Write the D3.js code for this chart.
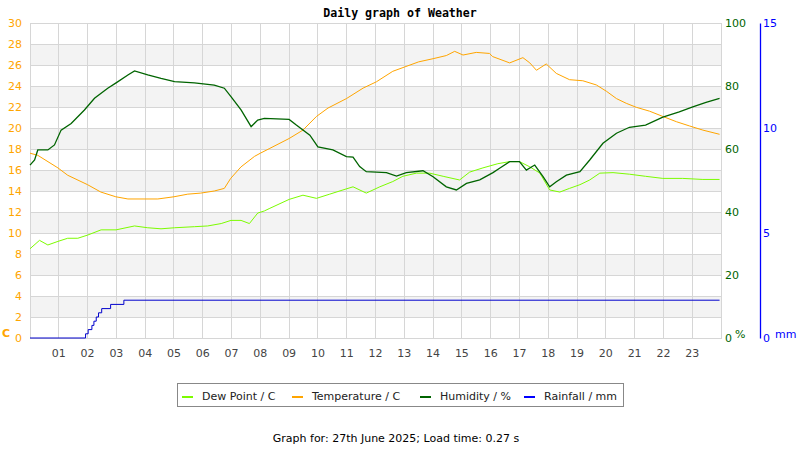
<!DOCTYPE html>
<html>
<head>
<meta charset="utf-8">
<script src="https://cdn.jsdelivr.net/npm/d3@7"></script>
<style>
  body { margin: 0; background: #fff; }
  svg { display: block; }
  text { font-family: "DejaVu Sans", sans-serif; }
</style>
</head>
<body>
<div id="chart"></div>
<script>
// readings for 27 June 2025 (hours since midnight)
var hourLabels = ["01","02","03","04","05","06","07","08","09","10","11","12",
                  "13","14","15","16","17","18","19","20","21","22","23"];
var tempTicks = d3.range(0, 31, 2);
var humTicks = [0, 20, 40, 60, 80, 100];
var rainTicks = [0, 5, 10, 15];

var tempHours = [0,0.27,0.97,1.31,2.0,2.46,2.98,3.4,4.44,5.0,5.48,5.93,6.4,6.75,6.97,7.33,7.8,8.0,8.33,9.0,9.48,9.95,10.35,10.99,11.57,12.03,12.6,13.0,13.5,14.0,14.46,14.75,15.04,15.5,15.96,16.07,16.66,17.12,17.36,17.59,17.93,18.28,18.74,19.2,19.67,20.02,20.37,20.71,21.06,21.52,21.98,22.45,22.9,23.37,23.95];
var tempVals = [17.6,17.4,16.2,15.5,14.6,13.9,13.45,13.24,13.24,13.45,13.7,13.8,14.0,14.25,15.2,16.3,17.3,17.6,18.06,19.0,19.8,21.1,21.9,22.8,23.8,24.4,25.4,25.8,26.3,26.6,26.9,27.3,26.95,27.2,27.1,26.8,26.2,26.7,26.2,25.5,26.1,25.2,24.6,24.5,24.1,23.5,22.8,22.35,21.97,21.6,21.1,20.6,20.2,19.8,19.4];

var humHours = [0,0.16,0.27,0.62,0.85,1.08,1.43,1.89,2.24,2.7,2.99,3.4,3.63,4.09,4.55,5.02,5.71,6.4,6.75,6.98,7.33,7.68,7.91,8.14,9.0,9.25,9.72,10.0,10.52,10.99,11.22,11.45,11.68,12.38,12.73,13.07,13.65,14.0,14.46,14.81,15.16,15.62,16.08,16.31,16.66,17.0,17.24,17.53,17.82,18.05,18.28,18.63,19.1,19.44,19.9,20.37,20.82,21.38,21.98,22.55,23.02,23.48,23.95];
var humVals = [54.9,56.5,59.7,59.7,61.3,66,68.1,72.4,76.1,79.3,81.0,83.5,84.8,83.5,82.4,81.4,81.0,80.3,79.3,76.6,72.4,67.1,69.2,69.7,69.4,67.6,64.4,60.7,59.7,57.6,57.4,54.4,52.8,52.5,51.4,52.5,53.1,51.2,48.0,47,49.1,50.2,52.5,53.9,56.0,56,53.3,54.9,51.2,48.0,49.6,51.7,52.8,56.5,61.8,65.0,66.9,67.6,70.1,71.8,73.4,74.8,76.1];

var dewHours = [0,0.33,0.62,0.97,1.31,1.66,2.0,2.47,2.99,3.63,4.09,4.55,5.02,5.71,6.17,6.64,6.98,7.33,7.62,7.91,8.14,8.33,9.0,9.48,9.95,10.41,10.87,11.22,11.68,12.15,12.6,12.95,13.42,13.88,14.35,14.92,15.27,15.73,16.25,16.66,17.0,17.36,17.71,18.05,18.4,18.74,19.1,19.44,19.79,20.25,20.82,21.38,21.98,22.67,23.37,23.95];
var dewVals = [8.5,9.3,8.86,9.2,9.5,9.5,9.8,10.3,10.3,10.67,10.5,10.4,10.5,10.6,10.67,10.9,11.2,11.2,10.9,11.9,12.1,12.35,13.2,13.6,13.3,13.7,14.1,14.4,13.8,14.4,14.9,15.4,15.7,15.7,15.4,15.05,15.8,16.2,16.6,16.8,16.8,16.3,15.7,14.1,13.9,14.25,14.6,15.05,15.7,15.75,15.6,15.4,15.2,15.2,15.1,15.1];

var rainHours = [0,1.93,2.02,2.15,2.22,2.3,2.38,2.49,2.8,3.26,23.95];
var rainVals = [0,0.2,0.4,0.6,0.8,1.0,1.2,1.4,1.6,1.8,1.8];

var W = 800, H = 450;
var plotL = 30, plotR = 721, plotT = 23, plotB = 338;

var svg = d3.select("#chart").append("svg").attr("width", W).attr("height", H);

var x = d3.scaleLinear().domain([0, 24]).range([plotL, plotR]);
var yT = d3.scaleLinear().domain([0, 30]).range([plotB, plotT]);
var yH = d3.scaleLinear().domain([0, 100]).range([plotB, plotT]);
var yR = d3.scaleLinear().domain([0, 15]).range([plotB, plotT]);

// title
svg.append("text").attr("x", 400).attr("y", 17).attr("text-anchor", "middle")
  .style("font-family", "'DejaVu Sans Mono', monospace").style("font-weight", "bold")
  .style("font-size", "11.6px").attr("fill", "#000").text("Daily graph of Weather");

// shaded bands
svg.append("g").selectAll("rect").data(d3.range(2, 30, 4)).join("rect")
  .attr("x", plotL).attr("width", plotR - plotL)
  .attr("y", function(d) { return yT(d + 2); })
  .attr("height", function(d) { return yT(d) - yT(d + 2); })
  .attr("fill", "#f3f3f3");

// grid
var grid = svg.append("g").attr("stroke", "#d6d6d6").attr("stroke-width", 1).attr("shape-rendering", "crispEdges");
grid.selectAll("line.h").data(tempTicks).join("line").attr("class", "h")
  .attr("x1", plotL).attr("x2", plotR)
  .attr("y1", function(d) { return yT(d); }).attr("y2", function(d) { return yT(d); });
grid.selectAll("line.v").data(d3.range(1, 25)).join("line").attr("class", "v")
  .attr("y1", plotT).attr("y2", plotB)
  .attr("x1", function(d) { return x(d); }).attr("x2", function(d) { return x(d); });
svg.append("rect").attr("x", plotL).attr("y", plotT).attr("width", plotR - plotL).attr("height", plotB - plotT)
  .attr("fill", "none").attr("stroke", "#d6d6d6").attr("shape-rendering", "crispEdges");

// left axis (temperature)
var axL = svg.append("g").attr("transform", "translate(" + (plotL - 8) + ",0)")
  .call(d3.axisLeft(yT).tickValues(tempTicks).tickSize(0).tickPadding(0));
axL.select(".domain").remove();
axL.selectAll("text").attr("fill", "#ffa500").style("font-size", "11px").style("font-family", "'DejaVu Sans', sans-serif");
svg.append("text").attr("x", 2).attr("y", 337).attr("fill", "#ffa500")
  .style("font-size", "11px").style("font-weight", "bold").text("C");

// right axis (humidity)
var axH = svg.append("g").attr("transform", "translate(" + (plotR + 4) + ",0)")
  .call(d3.axisRight(yH).tickValues(humTicks).tickSize(0).tickPadding(0));
axH.select(".domain").remove();
axH.selectAll("text").attr("fill", "#006400").style("font-size", "11px").style("font-family", "'DejaVu Sans', sans-serif");
svg.append("text").attr("x", 735).attr("y", 338).attr("fill", "#006400").style("font-size", "11px").text("%");

// rain axis
var axR = svg.append("g").attr("transform", "translate(760,0)")
  .call(d3.axisRight(yR).tickValues(rainTicks).tickSize(0).tickPadding(3));
axR.select(".domain").attr("stroke", "#0000ff").attr("stroke-width", 1.3);
axR.selectAll("text").attr("fill", "#0000ff").style("font-size", "11px").style("font-family", "'DejaVu Sans', sans-serif");
svg.append("text").attr("x", 775).attr("y", 338).attr("fill", "#0000ff").style("font-size", "11px").text("mm");

// hour labels
svg.append("g").selectAll("text").data(hourLabels).join("text")
  .attr("x", function(d) { return x(+d); }).attr("y", 357)
  .attr("text-anchor", "middle").attr("fill", "#444").style("font-size", "11px")
  .text(function(d) { return d; });

// series
function pts(hs, vs) { return hs.map(function(h, i) { return [h, vs[i]]; }); }

function drawLine(data, yScale, color, width, curve) {
  var line = d3.line().x(function(d) { return x(d[0]); }).y(function(d) { return yScale(d[1]); }).curve(curve);
  svg.append("path").datum(data).attr("d", line)
    .attr("fill", "none").attr("stroke", color).attr("stroke-width", width);
}

drawLine(pts(dewHours, dewVals), yT, "#7cfc00", 1, d3.curveLinear);
drawLine(pts(tempHours, tempVals), yT, "#ffa500", 1, d3.curveLinear);
drawLine(pts(humHours, humVals), yH, "#006400", 1.3, d3.curveLinear);
drawLine(pts(rainHours, rainVals), yR, "#0000cc", 1, d3.curveStepAfter);

// legend
var legendItems = [
  { name: "Dew Point / C", color: "#7cfc00", lx: 182 },
  { name: "Temperature / C", color: "#ffa500", lx: 292 },
  { name: "Humidity / %", color: "#006400", lx: 420 },
  { name: "Rainfall / mm", color: "#0000ff", lx: 524 }
];
svg.append("rect").attr("x", 177.5).attr("y", 383.5).attr("width", 446).attr("height", 23)
  .attr("fill", "#fff").attr("stroke", "#888");
var lg = svg.append("g").selectAll("g").data(legendItems).join("g");
lg.append("line").attr("x1", function(d) { return d.lx; }).attr("x2", function(d) { return d.lx + 11; })
  .attr("y1", 397).attr("y2", 397).attr("stroke", function(d) { return d.color; }).attr("stroke-width", 2);
lg.append("text").attr("x", function(d) { return d.lx + 20; }).attr("y", 400)
  .attr("fill", "#222").style("font-size", "11px").text(function(d) { return d.name; });

// footer
svg.append("text").attr("x", 396).attr("y", 442).attr("text-anchor", "middle")
  .attr("fill", "#000").style("font-size", "11px")
  .text("Graph for: 27th June 2025; Load time: 0.27 s");
</script>
</body>
</html>
